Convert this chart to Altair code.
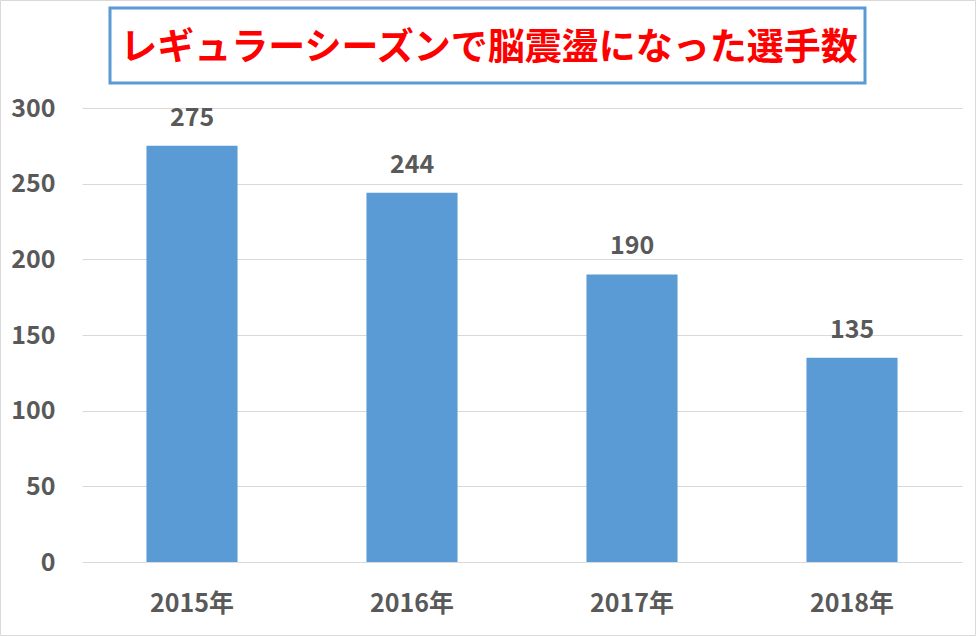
import altair as alt
import pandas as pd

title_text = "レギュラーシーズンで脳震盪になった選手数"
years = ["2015年", "2016年", "2017年", "2018年"]
counts = [275, 244, 190, 135]
y_ticks = [0, 50, 100, 150, 200, 250, 300]

FONT = "Noto Sans CJK JP"
GRAY = "#595959"
BLUE = "#5B9BD5"

df = pd.DataFrame({"year": years, "count": counts})

W, H = 880, 454
PL, PT, PR, PB = 82, 108, 14, 74

base = alt.Chart(df)

x_enc = alt.X("year:N", sort=years,
              scale=alt.Scale(paddingInner=0.586, paddingOuter=0.293),
              axis=alt.Axis(title=None, labelAngle=0, ticks=False, domain=False,
                            labelFont=FONT, labelFontSize=25, labelFontWeight="bold",
                            labelColor=GRAY, labelPadding=29, grid=False))
y_enc = alt.Y("count:Q", scale=alt.Scale(domain=[0, 300], nice=False),
              axis=alt.Axis(title=None, values=y_ticks, ticks=False, domain=False,
                            labelFont=FONT, labelFontSize=25, labelFontWeight="bold",
                            labelColor=GRAY, labelPadding=27, gridColor="#D9D9D9",
                            gridWidth=1))

bars = base.mark_bar(color=BLUE).encode(x=x_enc, y=y_enc)
labels = base.mark_text(font=FONT, fontSize=25, fontWeight="bold", color=GRAY,
                        baseline="bottom", dy=-15).encode(
    x=alt.X("year:N", sort=years), y="count:Q", text="count:Q")

one = pd.DataFrame({"t": [title_text]})
title_box = alt.Chart(one).mark_rect(fill="white", stroke=BLUE, strokeWidth=3).encode(
    x=alt.value(110 - PL), x2=alt.value(865 - PL),
    y=alt.value(8 - PT), y2=alt.value(83 - PT))
title = alt.Chart(one).mark_text(font=FONT, fontSize=37, fontWeight="bold",
                                 color="#FF0000", align="center", baseline="middle").encode(
    x=alt.value(489 - PL), y=alt.value(49 - PT), text="t:N")
frame = alt.Chart(one).mark_rect(fill=None, stroke="#D9D9D9", strokeWidth=1).encode(
    x=alt.value(-PL + 0.5), x2=alt.value(W + PR - 0.5),
    y=alt.value(-PT + 0.5), y2=alt.value(H + PB - 0.5))

chart = alt.layer(frame, bars, labels, title_box, title).properties(
    width=W, height=H, autosize="none",
    padding={"left": PL, "top": PT, "right": PR, "bottom": PB},
    background="white"
).configure_view(stroke=None)

chart.save("out.html", embed_options={"renderer": "svg", "actions": False})
